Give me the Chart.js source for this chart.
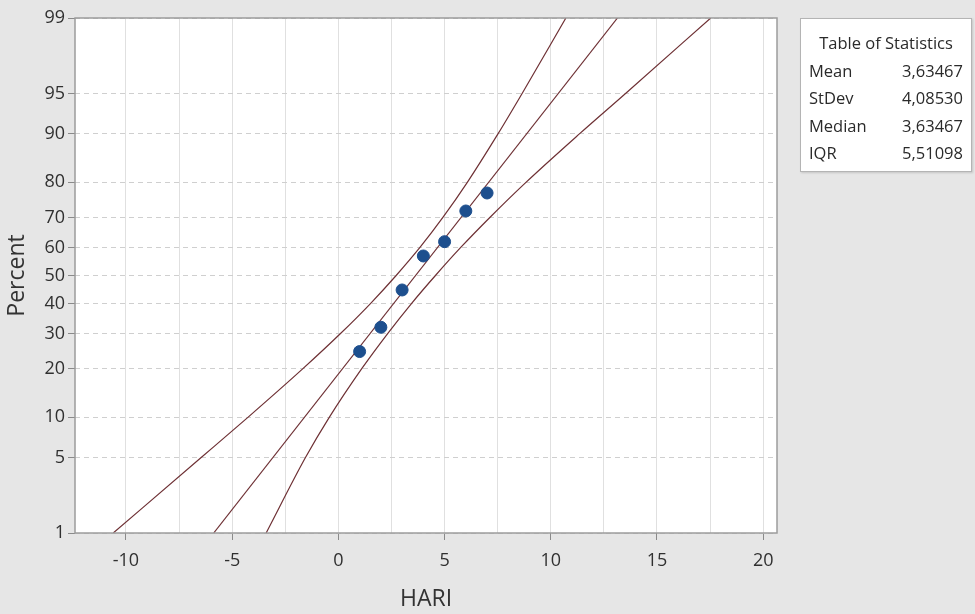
<!DOCTYPE html>
<html>
<head>
<meta charset="utf-8">
<script src="https://cdn.jsdelivr.net/npm/chart.js@4.4.1/dist/chart.umd.min.js"></script>
<style>
  body { margin: 0; background: #e6e6e6; }
  #wrap { position: relative; width: 975px; height: 614px; }
  #stats {
    position: absolute; left: 800px; top: 18px; width: 172px; height: 154px;
    background: #fff; border: 1px solid #b4b4b4; box-sizing: border-box;
    box-shadow: 1px 1px 2px rgba(0,0,0,0.15);
    font-family: "Open Sans", sans-serif; font-size: 16.5px; color: #2a2a2a;
    padding: 10px 8px 0 8px; line-height: 27.5px;
  }
  #stats .title { text-align: center; }
  #stats .row { display: flex; justify-content: space-between; }
</style>
</head>
<body>
<div id="wrap">
  <canvas id="myChart" width="975" height="614"></canvas>
  <div id="stats">
    <div class="title">Table of Statistics</div>
    <div class="row"><span>Mean</span><span>3,63467</span></div>
    <div class="row"><span>StDev</span><span>4,08530</span></div>
    <div class="row"><span>Median</span><span>3,63467</span></div>
    <div class="row"><span>IQR</span><span>5,51098</span></div>
  </div>
</div>
<script>
// data
const hariValues = [1, 2, 3, 4, 5, 6, 7];
const percentValues = [24.6, 32.0, 44.8, 57.0, 62.0, 72.0, 77.2];

// fitted line and 95% CI bands (x at given percent)
const fitPercent = [1, 99];
const fitX = [-5.87, 13.14];
const bandPercent = [1, 5, 10, 20, 30, 40, 50, 60, 70, 80, 90, 95, 99];
const lowerBandX = [-10.6, -6.46, -4.26, -1.67, 0.1, 1.51, 2.72, 3.84, 4.92, 6.07, 7.52, 8.65, 10.71];
const upperBandX = [-3.4, -1.55, -0.43, 1.1, 2.32, 3.44, 4.57, 5.76, 7.13, 8.83, 11.36, 13.52, 17.53];

// axis ticks
const percentTicks = [1, 5, 10, 20, 30, 40, 50, 60, 70, 80, 90, 95, 99];
const xGridValues = [-10, -7.5, -5, -2.5, 0, 2.5, 5, 7.5, 10, 12.5, 15, 17.5, 20];
const xTickLabels = ["-10", "-5", "0", "5", "10", "15", "20"];

// inverse normal cdf (Acklam) - probability paper scale
function probit(p) {
  const a = [-39.69683028665376, 220.9460984245205, -275.9285104469687, 138.357751867269, -30.66479806614716, 2.506628277459239];
  const b = [-54.47609879822406, 161.5858368580409, -155.6989798598866, 66.80131188771972, -13.28068155288572];
  const c = [-0.007784894002430293, -0.3223964580411365, -2.400758277161838, -2.549732539343734, 4.374664141464968, 2.938163982698783];
  const d = [0.007784695709041462, 0.3224671290700398, 2.445134137142996, 3.754408661907416];
  const pl = 0.02425;
  let q, r;
  if (p < pl) {
    q = Math.sqrt(-2 * Math.log(p));
    return (((((c[0]*q+c[1])*q+c[2])*q+c[3])*q+c[4])*q+c[5]) / ((((d[0]*q+d[1])*q+d[2])*q+d[3])*q+1);
  }
  if (p > 1 - pl) {
    q = Math.sqrt(-2 * Math.log(1 - p));
    return -(((((c[0]*q+c[1])*q+c[2])*q+c[3])*q+c[4])*q+c[5]) / ((((d[0]*q+d[1])*q+d[2])*q+d[3])*q+1);
  }
  q = p - 0.5; r = q * q;
  return (((((a[0]*r+a[1])*r+a[2])*r+a[3])*r+a[4])*r+a[5])*q / (((((b[0]*r+b[1])*r+b[2])*r+b[3])*r+b[4])*r+1);
}

const toPts = (xs, ps) => xs.map((x, i) => ({ x: x, y: probit(ps[i] / 100) }));
const lineColor = "#6e3034";

const framePlugin = {
  id: "frame",
  beforeDraw(chart) {
    const { ctx, chartArea: a } = chart;
    ctx.save();
    ctx.fillStyle = "#ffffff";
    ctx.fillRect(a.left, a.top, a.right - a.left, a.bottom - a.top);
    ctx.restore();
  },
  afterDraw(chart) {
    const { ctx, chartArea: a } = chart;
    ctx.save();
    ctx.strokeStyle = "#9c9c9c";
    ctx.lineWidth = 1.5;
    ctx.strokeRect(a.left, a.top, a.right - a.left, a.bottom - a.top);
    ctx.restore();
  },
};

const config = {
  type: "scatter",
  data: {
    datasets: [
      {
        label: "HARI",
        data: toPts(hariValues, percentValues),
        backgroundColor: "#1d4f8e",
        borderColor: "#1d4f8e",
        pointRadius: 6,
      },
      {
        label: "fit",
        data: toPts(fitX, fitPercent),
        showLine: true,
        borderColor: lineColor,
        borderWidth: 1.2,
        pointRadius: 0,
      },
      {
        label: "lower",
        data: toPts(lowerBandX, bandPercent),
        showLine: true,
        borderColor: lineColor,
        borderWidth: 1.2,
        pointRadius: 0,
        cubicInterpolationMode: "monotone",
      },
      {
        label: "upper",
        data: toPts(upperBandX, bandPercent),
        showLine: true,
        borderColor: lineColor,
        borderWidth: 1.2,
        pointRadius: 0,
        cubicInterpolationMode: "monotone",
      },
    ],
  },
  options: {
    responsive: false,
    devicePixelRatio: 1,
    animation: false,
    layout: { padding: { left: 0, right: 198, top: 18, bottom: 0 } },
    plugins: { legend: { display: false }, tooltip: { enabled: false } },
    scales: {
      x: {
        type: "linear",
        min: -12.4,
        max: 20.65,
        afterBuildTicks: (s) => { s.ticks = xGridValues.map((v) => ({ value: v })); },
        afterFit: (s) => { s.height = 81; },
        ticks: {
          color: "#303030",
          font: { family: "Open Sans", size: 18 },
          padding: 10,
          maxRotation: 0,
          autoSkip: false,
          callback: (v) => (v % 5 === 0 ? xTickLabels[(v + 10) / 5] : ""),
        },
        grid: {
          color: "#e0e0e0",
          tickLength: 7,
          tickColor: (c) => (c.tick && c.tick.value % 5 === 0 ? "#8a8a8a" : "rgba(0,0,0,0)"),
        },
        border: { display: false },
        title: {
          display: true,
          text: "HARI",
          color: "#333",
          font: { family: "Open Sans", size: 23 },
          padding: { top: 0, bottom: 1 },
        },
      },
      y: {
        type: "linear",
        min: probit(0.01),
        max: probit(0.99),
        afterBuildTicks: (s) => { s.ticks = percentTicks.map((p) => ({ value: probit(p / 100) })); },
        afterFit: (s) => { s.width = 75; },
        ticks: {
          color: "#303030",
          font: { family: "Open Sans", size: 18 },
          padding: 3,
          autoSkip: false,
          callback: (v, i) => String(percentTicks[i]),
        },
        grid: {
          color: "#cfcfcf",
          tickLength: 7,
          tickColor: "#8a8a8a",
        },
        border: { display: false, dash: [5, 4] },
        title: {
          display: true,
          text: "Percent",
          color: "#333",
          font: { family: "Open Sans", size: 23 },
          padding: { top: 4, bottom: 0 },
        },
      },
    },
  },
  plugins: [framePlugin],
};

const myChart = new Chart(document.getElementById("myChart"), config);
</script>
</body>
</html>
